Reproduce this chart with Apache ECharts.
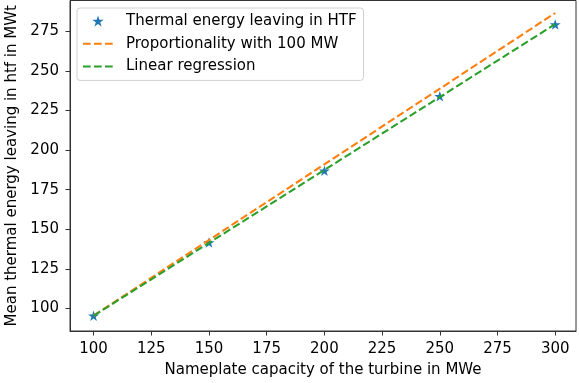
<!DOCTYPE html>
<html>
<head>
<meta charset="utf-8">
<script src="https://cdn.jsdelivr.net/npm/echarts@6/dist/echarts.min.js"></script>
<style>
  html, body { margin: 0; padding: 0; background: #fff; }
  #chart { width: 579px; height: 383px; }
</style>
</head>
<body>
<div id="chart"></div>
<script>
// ---- data ----
var capacities = [100, 150, 200, 250, 300];
var thermalEnergy = [95.5, 141.7, 187.0, 234.0, 279.3];
var proportionalityX = [100, 300];
var proportionalityY = [95.5, 286.5];
var regressionX = [100, 300];
var regressionY = [95.4, 279.5];
var xTicks = [100, 125, 150, 175, 200, 225, 250, 275, 300];
var yTicks = [100, 125, 150, 175, 200, 225, 250, 275];
var seriesNames = ['Thermal energy leaving in HTF', 'Proportionality with 100 MW', 'Linear regression'];

function pairs(xs, ys) { return xs.map(function (x, i) { return [x, ys[i]]; }); }

var STAR = 'path://M50 0 L61.23 34.55 L97.55 34.55 L68.17 55.9 L79.39 90.45 L50 69.1 L20.61 90.45 L31.83 55.9 L2.45 34.55 L38.77 34.55 Z';
var FONT = 'DejaVu Sans';
var FS = 15;

var chart = echarts.init(document.getElementById('chart'), null, { renderer: 'canvas' });
chart.setOption({
  animation: false,
  backgroundColor: '#ffffff',
  textStyle: { fontFamily: FONT },
  grid: {
    left: 70, right: 3, top: 0.5, bottom: 52,
    containLabel: false,
    outerBoundsMode: 'none',
    show: true, borderColor: '#333', borderWidth: 1, backgroundColor: 'transparent'
  },
  legend: {
    orient: 'vertical',
    left: 77, top: 8,
    padding: [5.5, 7, 6.5, 5],
    itemGap: 7.7,
    itemWidth: 30,
    itemHeight: 11,
    backgroundColor: 'rgba(255,255,255,0.8)',
    borderColor: '#d0d0d0',
    borderWidth: 1,
    borderRadius: 3,
    data: [
      { name: seriesNames[0] },
      { name: seriesNames[1], itemStyle: { opacity: 0 } },
      { name: seriesNames[2], itemStyle: { opacity: 0 } }
    ],
    textStyle: { fontFamily: FONT, fontSize: FS, color: '#000', lineHeight: 15, padding: [0, 0, 0, 8] }
  },
  xAxis: {
    type: 'value',
    min: 89.8, max: 309.0,
    name: 'Nameplate capacity of the turbine in MWe',
    nameLocation: 'middle',
    nameGap: 32,
    nameTextStyle: { fontFamily: FONT, fontSize: FS, color: '#000' },
    axisLine: { show: true, lineStyle: { color: '#333', width: 1 } },
    axisTick: { show: true, inside: false, length: 4.5, customValues: xTicks, lineStyle: { color: '#333' } },
    axisLabel: { customValues: xTicks, margin: 11, fontFamily: FONT, fontSize: FS, color: '#000' },
    splitLine: { show: false }
  },
  yAxis: {
    type: 'value',
    min: 85.83, max: 294.4,
    name: 'Mean thermal energy leaving in htf in MWt',
    nameLocation: 'middle',
    nameGap: 50,
    nameTextStyle: { fontFamily: FONT, fontSize: FS, color: '#000' },
    axisLine: { show: true, lineStyle: { color: '#333', width: 1 } },
    axisTick: { show: true, inside: false, length: 4.5, customValues: yTicks, lineStyle: { color: '#333' } },
    axisLabel: { customValues: yTicks, margin: 11, fontFamily: FONT, fontSize: FS, color: '#000' },
    splitLine: { show: false }
  },
  series: [
    {
      name: seriesNames[0],
      type: 'scatter',
      symbol: STAR,
      symbolSize: [11, 10.5],
      itemStyle: { color: '#1f77b4', opacity: 1 },
      data: pairs(capacities, thermalEnergy),
      z: 2
    },
    {
      name: seriesNames[1],
      type: 'line',
      symbol: 'none',
      lineStyle: { color: '#ff7f0e', width: 2.1, type: [7.7, 3.3] },
      itemStyle: { color: '#ff7f0e' },
      data: pairs(proportionalityX, proportionalityY),
      z: 3
    },
    {
      name: seriesNames[2],
      type: 'line',
      symbol: 'none',
      lineStyle: { color: '#2ca02c', width: 2.1, type: [7.7, 3.3] },
      itemStyle: { color: '#2ca02c' },
      data: pairs(regressionX, regressionY),
      z: 4
    }
  ]
});
</script>
</body>
</html>
